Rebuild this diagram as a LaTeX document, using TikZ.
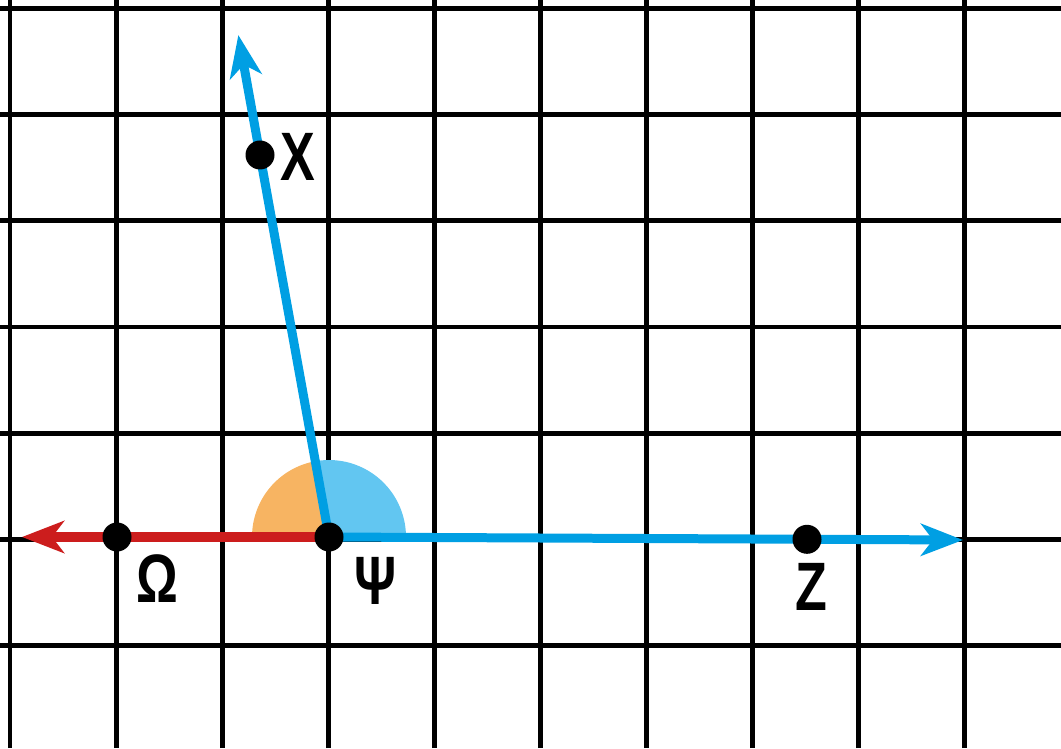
\documentclass[tikz,border=0pt]{standalone}
\usepackage{fontspec}
\setmainfont{Liberation Sans}
\usetikzlibrary{arrows.meta, calc}
\definecolor{rayblue}{HTML}{009FE3}
\definecolor{rayred}{HTML}{CC1D1D}
\definecolor{angleorange}{HTML}{F7B462}
\definecolor{angleblue}{HTML}{62C6F1}

\begin{document}
\begin{tikzpicture}[x=0.02cm, y=0.02cm, >={Stealth[length=0.84cm, width=0.64cm, inset=0.24cm]},
    gridline/.style={line width=0.1cm, black},
    ray/.style={line width=0.18cm, rayblue},
    dot/.style={black},
    lab/.style={font=\fontsize{39}{42}\selectfont\bfseries, inner sep=0pt, xscale=0.76, transform shape}]
    \useasboundingbox (0,0) rectangle (1061,748);

    % Draw the grid
    \foreach \i in {0,...,9}
        \draw[gridline] ({10+106*\i},0) -- ({10+106*\i},748);
    \foreach \j in {0,...,6}
        \draw[gridline] (0,{739-106*\j}) -- (1061,{739-106*\j});

    % Points
    \coordinate (Psi) at (329,211);
    \coordinate (Omega) at (117,211);
    \coordinate (X) at (260,593);
    \coordinate (Z) at (807,208.7);
    \coordinate (tipX) at ($(Psi)!1.314!(X)$);
    \coordinate (tipZ) at (963,208);
    \coordinate (tipO) at (22,211);

    % Draw the two angles at Psi
    \fill[angleorange] (Psi) -- ++(180:77) arc[start angle=180, end angle=100.24, radius=77] -- cycle;
    \fill[angleblue] (Psi) -- ++(100.24:77) arc[start angle=100.24, end angle=0, radius=77] -- cycle;

    % Draw the rays
    \draw[->, line width=0.19cm, rayred] (Psi) -- (tipO);
    \draw[->, ray] (Psi) -- (tipX);
    \draw[->, ray] (Psi) -- (tipZ);

    % Draw the points
    \fill[dot] (Psi) circle (14.5);
    \fill[dot] (Omega) circle (14.5);
    \fill[dot] (X) circle (14.5);
    \fill[dot] (Z) circle (14.5);

    % Labels
    \node[lab] (labX) at (298,591) {X};
    \node[lab] (labOmega) at (157,169) {Ω};
    \node[lab] (labPsi) at (376,167) {Ψ};
    \node[lab] (labZ) at (811,161) {Z};
\end{tikzpicture}
\end{document}
